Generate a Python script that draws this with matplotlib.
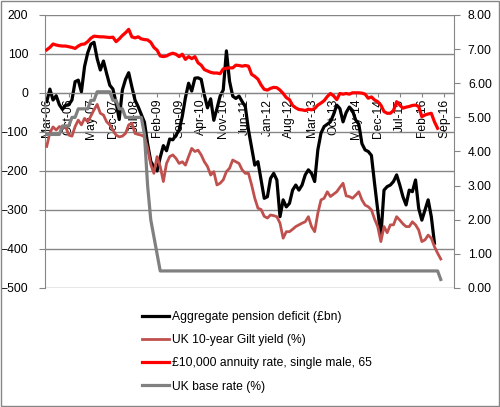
import matplotlib.pyplot as plt
import numpy as np
from matplotlib.lines import Line2D
from matplotlib.patches import Rectangle

# category labels, every 7th month from Mar-06
month_labels = ['Mar-06', 'Oct-06', 'May-07', 'Dec-07', 'Jul-08', 'Feb-09', 'Sep-09',
                'Apr-10', 'Nov-10', 'Jun-11', 'Jan-12', 'Aug-12', 'Mar-13', 'Oct-13',
                'May-14', 'Dec-14', 'Jul-15', 'Feb-16', 'Sep-16']

# monthly series starting Mar-06
deficit = [-22, 10, -18, -7, -30, -42, -31, -30, -18, 29,
           33, 3, 68, 103, 125, 130, 88, 59, 82, 50,
           20, 10, -25, -68, 8, 35, 52, 16, -18, -35,
           -55, -75, -130, -175, -190, -200, -165, -135, -148, -118,
           -120, -108, -95, -60, -12, 25, 5, 38, 39, 35,
           -5, -38, -15, -70, -40, -8, 8, 108, 30, -8,
           -14, -8, -22, -35, -95, -140, -185, -176, -223, -270,
           -266, -219, -206, -223, -317, -274, -292, -283, -249, -236,
           -249, -236, -210, -197, -206, -227, -146, -103, -86, -80,
           -74, -55, -31, -40, -74, -50, -36, -45, -69, -80,
           -130, -146, -150, -160, -232, -300, -368, -249, -240, -236,
           -227, -210, -236, -266, -287, -249, -253, -223, -296, -326,
           -300, -274, -317, -385]

gilt_yield = [4.15, 4.55, 4.72, 4.63, 4.73, 4.68, 4.73, 4.48, 4.45, 4.73,
              4.92, 4.78, 4.97, 4.87, 5.04, 5.22, 5.38, 5.12, 5.07, 4.87,
              4.78, 4.63, 4.48, 4.43, 4.45, 4.53, 4.78, 4.83, 4.53, 4.50,
              4.48, 4.43, 4.10, 3.62, 3.36, 3.85, 3.56, 3.12, 3.65, 3.85,
              3.90, 3.80, 3.65, 3.70, 3.60, 3.85, 4.09, 4.00, 4.04, 3.90,
              3.70, 3.56, 3.31, 3.41, 3.02, 3.07, 3.17, 3.41, 3.51, 3.75,
              3.70, 3.65, 3.46, 3.36, 3.36, 3.02, 2.63, 2.34, 2.30, 2.10,
              2.05, 2.14, 2.12, 2.09, 1.90, 1.46, 1.65, 1.65, 1.72, 1.80,
              1.85, 1.90, 1.94, 2.09, 1.80, 1.65, 2.19, 2.58, 2.63, 2.82,
              2.68, 2.75, 2.82, 2.95, 3.07, 2.70, 2.68, 2.63, 2.72, 2.82,
              2.58, 2.43, 2.38, 2.29, 2.02, 1.80, 1.36, 1.80, 1.62, 1.85,
              1.85, 2.09, 1.99, 1.88, 1.80, 1.80, 1.94, 1.85, 1.70, 1.36,
              1.41, 1.55, 1.46, 1.21, 1.02, 0.85]

annuity_rate = [6.98, 7.05, 7.15, 7.12, 7.10, 7.09, 7.09, 7.07, 7.05, 7.02,
                7.09, 7.14, 7.15, 7.22, 7.32, 7.38, 7.37, 7.36, 7.36, 7.35,
                7.34, 7.35, 7.22, 7.30, 7.40, 7.48, 7.58, 7.36, 7.33, 7.36,
                7.30, 7.28, 7.27, 7.20, 7.05, 6.97, 6.80, 6.78, 6.80, 6.85,
                6.88, 6.85, 6.78, 6.85, 6.70, 6.78, 6.72, 6.78, 6.60, 6.53,
                6.40, 6.36, 6.32, 6.30, 6.30, 6.28, 6.42, 6.44, 6.45, 6.45,
                6.53, 6.52, 6.50, 6.52, 6.50, 6.26, 6.20, 6.12, 5.95, 5.82,
                5.80, 5.85, 5.88, 5.87, 5.80, 5.70, 5.58, 5.52, 5.35, 5.28,
                5.23, 5.22, 5.20, 5.24, 5.22, 5.26, 5.36, 5.42, 5.49, 5.61,
                5.70, 5.63, 5.52, 5.70, 5.68, 5.70, 5.68, 5.72, 5.72, 5.72,
                5.71, 5.68, 5.56, 5.60, 5.51, 5.46, 5.36, 5.17, 5.12, 5.12,
                5.20, 5.46, 5.36, 5.27, 5.30, 5.32, 5.35, 5.36, 5.32, 5.02,
                5.07, 5.10, 5.12, 4.87, 4.68]

base_rate = [4.5, 4.5, 4.5, 4.5, 4.5, 4.75, 4.75, 4.75, 5.0, 5.0,
             5.25, 5.25, 5.25, 5.25, 5.5, 5.5, 5.75, 5.75, 5.75, 5.75,
             5.75, 5.5, 5.5, 5.25, 5.25, 5.0, 5.0, 5.0, 5.0, 5.0,
             5.0, 4.5, 3.0, 2.0, 1.5, 1.0] + [0.5] * 89 + [0.25]

series_names = ['Aggregate pension deficit (£bn)', 'UK 10-year Gilt yield (%)',
                '£10,000 annuity rate, single male, 65', 'UK base rate (%)']
colors = ['#000000', '#C0504D', '#FF0000', '#808080']
widths = [2.3, 2.0, 2.3, 2.3]

plt.rcParams['font.family'] = ['Liberation Sans', 'DejaVu Sans']
plt.rcParams['font.size'] = 8.7

grid_col = '#868686'

fig = plt.figure(figsize=(5, 4.07), dpi=100)
ax = fig.add_axes([45/500, 1 - 288/407, (454 - 45)/500, (288 - 15)/407])
ax2 = ax.twinx()

# primary axis, category axis crosses at zero
ax.spines['bottom'].set_position(('data', 0))
ax.spines['bottom'].set_color(grid_col)
ax.spines['left'].set_color(grid_col)
ax.spines['top'].set_visible(False)
ax.spines['right'].set_visible(False)
ax.set_ylim(-500, 200)
ax.set_yticks(range(-500, 201, 100))
ax.yaxis.grid(True, color=grid_col, lw=1)
ax.set_axisbelow(True)
ax.set_xlim(-0.55, 129.2)
ax.set_xticks(np.arange(0, 7*len(month_labels), 7))
ax.set_xticklabels(month_labels)
ax.tick_params(axis='y', direction='out', length=4, color=grid_col, pad=8)
ax.tick_params(axis='x', direction='out', length=3, color=grid_col, pad=1,
               labelrotation=90)
for lab in ax.get_xticklabels():
    lab.set_va('top')
    lab.set_ha('center')

ax.plot(np.arange(len(deficit)), deficit, color=colors[0], lw=widths[0],
        solid_joinstyle='round')

# secondary axis
ax2.set_ylim(0, 8)
ax2.set_yticks(range(0, 9))
ax2.set_yticklabels(['%.2f' % v for v in range(0, 9)])
for s in ['left', 'top', 'bottom']:
    ax2.spines[s].set_visible(False)
ax2.spines['right'].set_color(grid_col)
ax2.tick_params(axis='y', direction='out', length=4, color=grid_col, pad=6)

ax2.plot(np.arange(len(gilt_yield)), gilt_yield, color=colors[1], lw=widths[1],
         solid_joinstyle='round')
ax2.plot(np.arange(len(annuity_rate)), annuity_rate, color=colors[2], lw=widths[2],
         solid_joinstyle='round')
ax2.plot(np.arange(len(base_rate)), base_rate, color=colors[3], lw=widths[3],
         solid_joinstyle='round')

handles = [Line2D([], [], color=c, lw=w) for c, w in zip(colors, widths)]
fig.legend(handles, series_names, loc='upper left', bbox_to_anchor=(142/500, 1 - 311/407),
           frameon=False, handlelength=2.2, handletextpad=0.3, labelspacing=0.93,
           borderpad=0, borderaxespad=0)

fig.patches.append(Rectangle((0.001, 0.002), 0.997, 0.995, transform=fig.transFigure,
                             fill=False, edgecolor=grid_col, lw=1))

fig.savefig('out.png', dpi=100)
